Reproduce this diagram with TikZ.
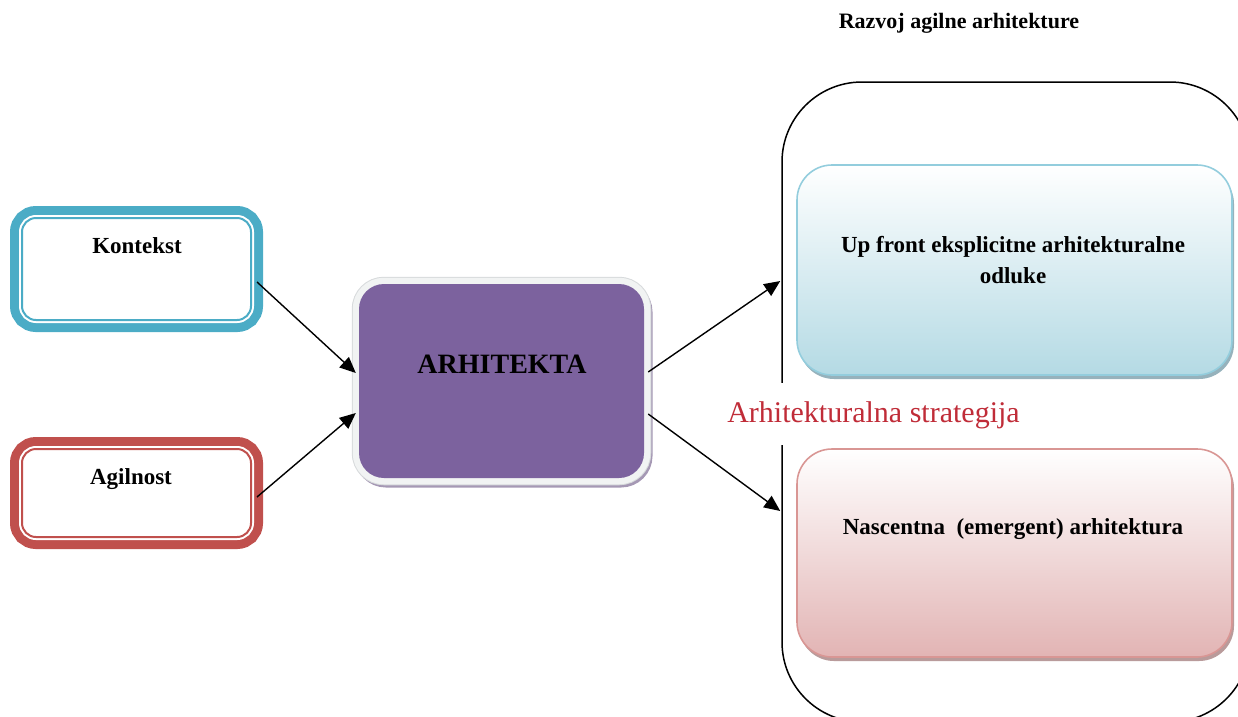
\documentclass[tikz,border=0pt]{standalone}
\usepackage{fontspec}
\setmainfont{Liberation Serif}
\usetikzlibrary{arrows.meta,calc}

\definecolor{tealc}{RGB}{75,172,198}
\definecolor{redc}{RGB}{192,80,77}
\definecolor{purplec}{RGB}{124,98,158}
\definecolor{rimc}{RGB}{241,243,243}
\definecolor{rimedge}{RGB}{215,218,220}
\definecolor{purshadow}{RGB}{165,152,180}
\definecolor{bluebd}{RGB}{147,205,221}
\definecolor{bluebot}{RGB}{180,218,228}
\definecolor{blueshadow}{RGB}{150,178,188}
\definecolor{redbd}{RGB}{217,150,148}
\definecolor{redbot}{RGB}{226,180,180}
\definecolor{redshadow}{RGB}{185,155,155}
\definecolor{stratc}{RGB}{192,44,56}

\tikzset{
  % white box with a thick outer band, a white gap and a thin inner line
  framedbox/.style={rounded corners=14pt, minimum width=229pt, fill=white,
    draw=#1, line width=2pt, inner sep=0pt,
    preaction={draw=#1, line width=24pt},
    preaction={draw=white, line width=6pt}},
  % central box with light rim and soft shadow
  archbox/.style={rounded corners=25pt, minimum width=285pt, minimum height=194pt,
    fill=purplec, inner sep=0pt,
    preaction={draw=purshadow, line width=13pt, transform canvas={xshift=2pt,yshift=-3pt}},
    preaction={draw=rimedge, line width=14.5pt},
    preaction={draw=rimc, line width=12.5pt}},
  % gradient box on the right
  softbox/.style n args={3}{rounded corners=35pt, minimum width=435pt, inner sep=0pt,
    draw=#1, line width=1.6pt, top color=white, middle color=#2!55!white, bottom color=#2,
    preaction={fill=#3, transform canvas={xshift=2pt,yshift=-4pt}}},
  lbl/.style={font=\bfseries\fontsize{23}{31}\selectfont, align=center, anchor=base, inner sep=0pt},
  arr/.style={-{Triangle[length=16pt,width=14pt]}, line width=1.4pt},
}

\begin{document}
\begin{tikzpicture}[x=1pt,y=-1pt]
\useasboundingbox (0,0) rectangle (1238,716);
\begin{scope}
\clip (0,0) rectangle (1238,716);

% title
\node[font=\bfseries\fontsize{22}{26}\selectfont, anchor=base, inner sep=0pt] (title) at (959,28) {Razvoj agilne arhitekture};

% outer frame of the strategy area
\node[draw, line width=1.5pt, rounded corners=80pt, minimum width=468pt, minimum height=640pt, inner sep=0pt] (frame) at (1016,402) {};

% strategy label, its white background opens the frame line
\node[font=\fontsize{30}{36}\selectfont, text=stratc, fill=white, anchor=base,
      inner xsep=3pt, inner ysep=0pt, text height=39pt, text depth=23pt] (strat) at (873.5,422) {Arhitekturalna strategija};

% input boxes
\node[framedbox=tealc, minimum height=102pt] (kon) at (136.5,269) {};
\node[lbl] (kont) at (137,253) {Kontekst};
\node[framedbox=redc, minimum height=88pt] (agi) at (136.5,493) {};
\node[lbl] (agit) at (131,484) {Agilnost};

% central box
\node[archbox] (arch) at (501.5,381) {};
\node[lbl, font=\bfseries\fontsize{28}{32}\selectfont] (archt) at (502,373) {ARHITEKTA};

% output boxes
\node[softbox={bluebd}{bluebot}{blueshadow}, minimum height=210pt] (up) at (1014.5,270) {};
\node[lbl] (upt) at (1013,283) {Up front eksplicitne arhitekturalne\\odluke};
\node[softbox={redbd}{redbot}{redshadow}, minimum height=208pt] (nas) at (1014.5,553) {};
\node[lbl] (nast) at (1013,534) {Nascentna\ \ (emergent) arhitektura};

% connectors
\draw[arr] ($(kon.east)+(5,13)$) -- ($(arch.west)+(-3,-8)$);
\draw[arr] ($(agi.east)+(5,4)$) -- ($(arch.west)+(-3,32)$);
\draw[arr] ($(arch.east)+(4,-9)$) -- ($(frame.west)+(-1,-121)$);
\draw[arr] ($(arch.east)+(4,33)$) -- ($(frame.west)+(-1,109)$);
\end{scope}
\end{tikzpicture}
\end{document}
